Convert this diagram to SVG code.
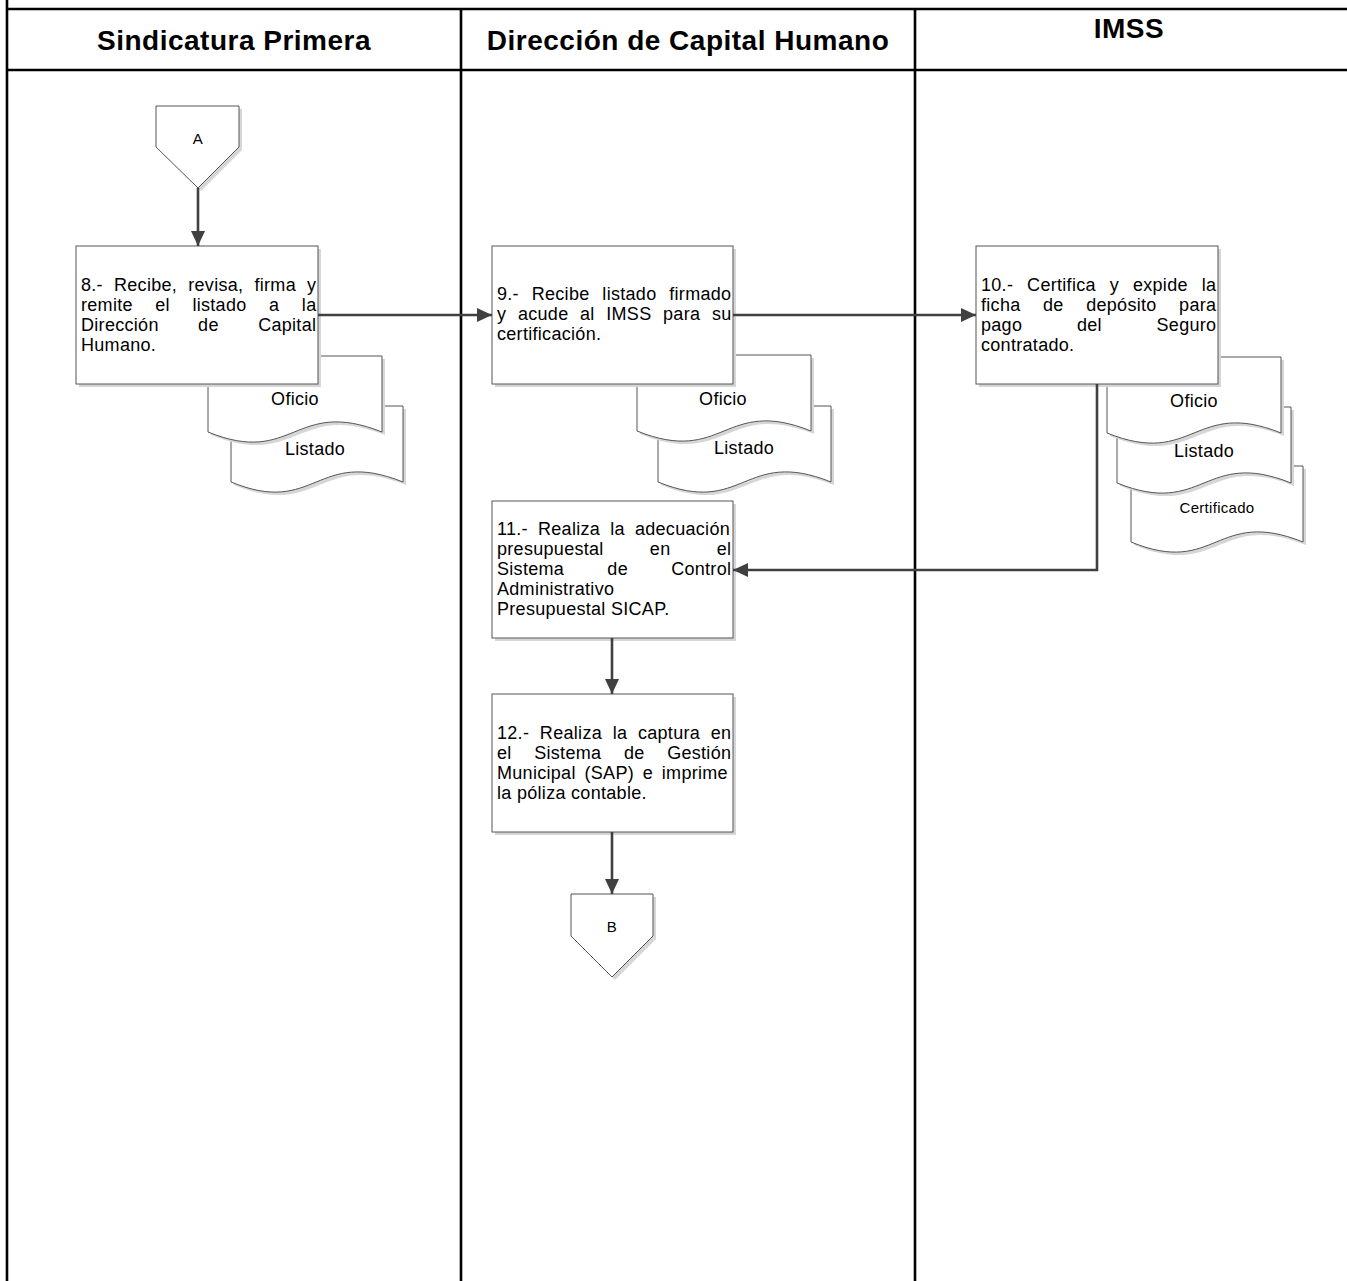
<svg xmlns="http://www.w3.org/2000/svg" width="1347" height="1281" viewBox="0 0 1347 1281">
<style>
.frame{stroke:#000;stroke-width:2.6;fill:none}
.hdr{font-family:"Liberation Sans",Arial,sans-serif;font-weight:bold;font-size:28px;letter-spacing:0.5px;fill:#000}
.t{font-family:"Liberation Sans",Arial,sans-serif;font-size:18px;letter-spacing:0.3px;fill:#000}
.tc{font-family:"Liberation Sans",Arial,sans-serif;font-size:18px;letter-spacing:0.3px;fill:#000;text-anchor:middle}
.ts{font-family:"Liberation Sans",Arial,sans-serif;font-size:15px;letter-spacing:0.3px;fill:#000;text-anchor:middle}
.box{fill:#fff;stroke:#555;stroke-width:1}
.sh{fill:#d6d6d6;stroke:none}
.conn{stroke:#404040;stroke-width:2.6;fill:none;marker-end:url(#arr)}
</style>
<defs>
<marker id="arr" viewBox="0 0 15 14" refX="15" refY="7" markerWidth="15" markerHeight="14" markerUnits="userSpaceOnUse" orient="auto">
<path d="M0,0 L15,7 L0,14 z" fill="#404040"/>
</marker>
</defs>
<rect x="0" y="0" width="1347" height="1281" fill="#fff"/>
<g id="frame">
<line class="frame" x1="7" y1="0" x2="7" y2="1281"/>
<line class="frame" x1="6" y1="9" x2="1347" y2="9"/>
<line class="frame" x1="6" y1="70" x2="1347" y2="70"/>
<line class="frame" x1="461" y1="9" x2="461" y2="1281"/>
<line class="frame" x1="915" y1="9" x2="915" y2="1281"/>
<text class="hdr" x="234" y="50" text-anchor="middle">Sindicatura Primera</text>
<text class="hdr" x="688" y="50" text-anchor="middle">Dirección de Capital Humano</text>
<text class="hdr" x="1129" y="38" text-anchor="middle">IMSS</text>
</g>
<g id="connA">
<path class="sh" d="M159,109 H242 V150 L201,191 L159,150 z"/>
<path class="box" d="M156,106 H239 V147 L198,188 L156,147 z"/>
<text class="tc" x="198" y="144" style="font-size:15px">A</text>
</g>
<g id="step8">
<path class="sh" d="M234,409 H406 V485 C319,450 319,520 234,485 z"/>
<path class="box" d="M231,406 H403 V482 C316,447 316,517 231,482 z"/>
<text class="tc" x="315" y="455">Listado</text>
<path class="sh" d="M211,359 H385 V435 C297,400 297,470 211,435 z"/>
<path class="box" d="M208,356 H382 V432 C294,397 294,467 208,432 z"/>
<text class="tc" x="295" y="405">Oficio</text>
<rect class="sh" x="79" y="249" width="242" height="138"/>
<rect class="box" x="76" y="246" width="242" height="138"/>
<text class="t" x="81" y="291" word-spacing="5.8">8.- Recibe, revisa, firma y</text>
<text class="t" x="81" y="311" word-spacing="17.2">remite el listado a la</text>
<text class="t" x="81" y="331" word-spacing="34.1">Dirección de Capital</text>
<text class="t" x="81" y="351">Humano.</text>
</g>
<g id="step9">
<path class="sh" d="M661,409 H834 V485 C747,450 747,520 661,485 z"/>
<path class="box" d="M658,406 H831 V482 C744,447 744,517 658,482 z"/>
<text class="tc" x="744" y="454">Listado</text>
<path class="sh" d="M640,358 H814 V434 C727,399 727,469 640,434 z"/>
<path class="box" d="M637,355 H811 V431 C724,396 724,466 637,431 z"/>
<text class="tc" x="723" y="405">Oficio</text>
<rect class="sh" x="495" y="249" width="241" height="138"/>
<rect class="box" x="492" y="246" width="241" height="138"/>
<text class="t" x="497" y="300" word-spacing="7.5">9.- Recibe listado firmado</text>
<text class="t" x="497" y="320" word-spacing="6.3">y acude al IMSS para su</text>
<text class="t" x="497" y="340">certificación.</text>
</g>
<g id="step10">
<path class="sh" d="M1134,469 H1306 V545 C1219,510 1219,580 1134,545 z"/>
<path class="box" d="M1131,466 H1303 V542 C1216,507 1216,577 1131,542 z"/>
<text class="ts" x="1217" y="513">Certificado</text>
<path class="sh" d="M1120,410 H1294 V486 C1207,451 1207,521 1120,486 z"/>
<path class="box" d="M1117,407 H1291 V483 C1204,448 1204,518 1117,483 z"/>
<text class="tc" x="1204" y="457">Listado</text>
<path class="sh" d="M1110,360 H1284 V436 C1197,401 1197,471 1110,436 z"/>
<path class="box" d="M1107,357 H1281 V433 C1194,398 1194,468 1107,433 z"/>
<text class="tc" x="1194" y="407">Oficio</text>
<rect class="sh" x="979" y="249" width="242" height="138"/>
<rect class="box" x="976" y="246" width="242" height="138"/>
<text class="t" x="981" y="291" word-spacing="8.6">10.- Certifica y expide la</text>
<text class="t" x="981" y="311" word-spacing="17.2">ficha de depósito para</text>
<text class="t" x="981" y="331" word-spacing="49.4">pago del Seguro</text>
<text class="t" x="981" y="351">contratado.</text>
</g>
<g id="step11">
<rect class="sh" x="495" y="504" width="241" height="137"/>
<rect class="box" x="492" y="501" width="241" height="137"/>
<text class="t" x="497" y="535" word-spacing="4.8">11.- Realiza la adecuación</text>
<text class="t" x="497" y="555" word-spacing="40.9">presupuestal en el</text>
<text class="t" x="497" y="575" word-spacing="37.9">Sistema de Control</text>
<text class="t" x="497" y="595">Administrativo</text>
<text class="t" x="497" y="615">Presupuestal SICAP.</text>
</g>
<g id="step12">
<rect class="sh" x="495" y="697" width="241" height="138"/>
<rect class="box" x="492" y="694" width="241" height="138"/>
<text class="t" x="497" y="739" word-spacing="5.35">12.- Realiza la captura en</text>
<text class="t" x="497" y="759" word-spacing="17.3">el Sistema de Gestión</text>
<text class="t" x="497" y="779" word-spacing="3.45">Municipal (SAP) e imprime</text>
<text class="t" x="497" y="799">la póliza contable.</text>
</g>
<g id="connB">
<path class="sh" d="M574,897 H656 V939 L615,980 L574,939 z"/>
<path class="box" d="M571,894 H653 V936 L612,977 L571,936 z"/>
<text class="tc" x="612" y="932" style="font-size:15px">B</text>
</g>
<g id="connectors">
<line class="conn" x1="198" y1="188" x2="198" y2="246"/>
<line class="conn" x1="318" y1="315" x2="492" y2="315"/>
<line class="conn" x1="733" y1="315" x2="976" y2="315"/>
<polyline class="conn" points="1097,384 1097,570 733,570"/>
<line class="conn" x1="612" y1="638" x2="612" y2="694"/>
<line class="conn" x1="612" y1="832" x2="612" y2="894"/>
</g>
</svg>
